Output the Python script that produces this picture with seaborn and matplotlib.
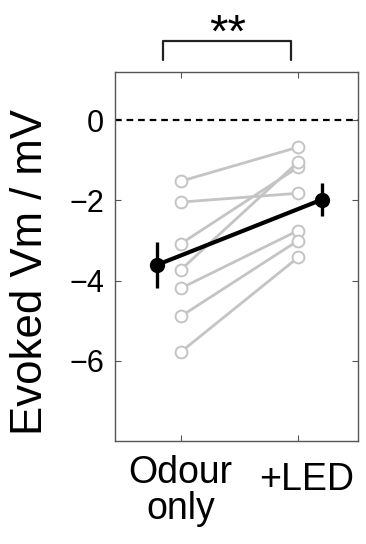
import numpy as np
import matplotlib
matplotlib.use("Agg")
import matplotlib.pyplot as plt
import matplotlib.transforms as mtransforms
import seaborn as sns
import pandas as pd

# values (mV)
conditions = ["Odour\nonly", "+LED"]
odour_only = [-1.52, -2.04, -3.08, -3.73, -4.19, -4.89, -5.78]
plus_led = [-0.67, -1.82, -1.17, -1.04, -2.75, -3.00, -3.42]
yticks = [0, -2, -4, -6]

sns.set_style("ticks")
plt.rcParams['font.family'] = ['Liberation Sans', 'DejaVu Sans']
plt.rcParams['text.color'] = 'black'
plt.rcParams['xtick.labelcolor'] = 'black'
plt.rcParams['ytick.labelcolor'] = 'black'
plt.rcParams['axes.labelcolor'] = 'black'

n = len(odour_only)
df = pd.DataFrame({
    'cell': list(range(n)) * 2,
    'x': [1] * n + [2] * n,
    'Vm': odour_only + plus_led,
})

fig = plt.figure(figsize=(3.66, 5.44), dpi=100)
ax = fig.add_axes([0.3142, 0.1893, 0.664, 0.678])

sns.lineplot(data=df, x='x', y='Vm', units='cell', estimator=None,
             color='#c4c4c4', lw=2.0, marker='o', markersize=8.5,
             markerfacecolor='white', markeredgecolor='#c4c4c4',
             markeredgewidth=1.4, ax=ax, legend=False)

# mean +/- sem, offset to the sides
means = df.groupby('x')['Vm'].mean()
sems = df.groupby('x')['Vm'].sem()
mx = np.array([1, 2]) + np.array([-0.2, 0.2])
ax.errorbar(mx, means.values, yerr=sems.values, color='black', lw=3,
            elinewidth=2.4, capsize=0, marker='o', markersize=10, zorder=5)

ax.axhline(0, color='black', lw=1.6, ls=(0, (3, 2.2)), zorder=1)

ax.set_xlim(0.44, 2.51)
ax.set_ylim(-8, 1.2)
ax.set_xticks([1, 2])
ax.set_xticklabels(conditions, fontsize=27, linespacing=1.0)
ax.set_yticks(yticks)
ax.set_yticklabels(['0', '\u22122', '\u22124', '\u22126'], fontsize=22)
ax.set_xlabel('')
ax.set_ylabel('Evoked Vm / mV', fontsize=31.5)
ax.yaxis.set_label_coords(-0.265, 0.458)
ax.tick_params(direction='in', length=4, width=0.8, color='#555555',
               top=True, right=True, pad=8)
ax.tick_params(axis='x', pad=10)
for s in ax.spines.values():
    s.set_color('#555555')
    s.set_linewidth(1.0)

# nudge the "+LED" label a little right/down like the original
lbl = ax.get_xticklabels()[1]
lbl.set_transform(lbl.get_transform() +
                  mtransforms.ScaledTranslation(8 / 100, -7 / 100, fig.dpi_scale_trans))

# significance bracket
ax.plot([0.85, 0.85, 1.94, 1.94], [1.5, 1.97, 1.97, 1.5], color='#222222',
        lw=1.6, clip_on=False)
ax.text(1.4, 1.58, '**', ha='center', va='bottom', fontsize=34, clip_on=False)

fig.savefig('out.png', dpi=100)
